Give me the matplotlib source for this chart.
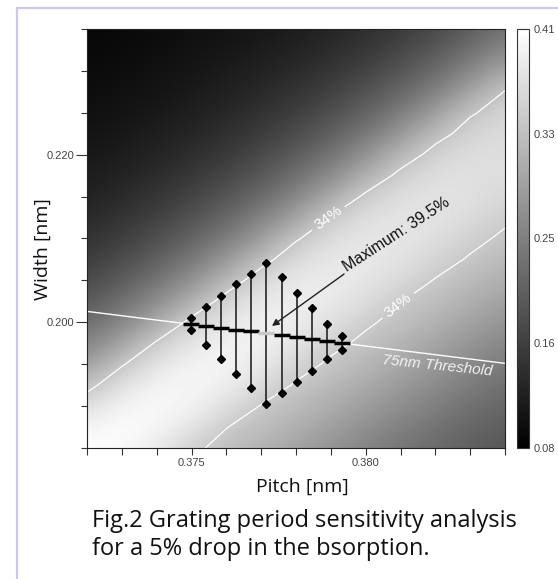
import numpy as np
import matplotlib
matplotlib.use('Agg')
import matplotlib.pyplot as plt
from matplotlib.lines import Line2D

# ---- data ----
# grid of absorption values; columns = pitch, rows = width
pitch = [0.372, 0.373, 0.374, 0.375, 0.376, 0.377, 0.378, 0.379, 0.380, 0.381, 0.382, 0.383, 0.384]
width = [0.1850, 0.1875, 0.1900, 0.1925, 0.1950, 0.1975, 0.2000, 0.2025, 0.2050, 0.2075, 0.2100,
         0.2125, 0.2150, 0.2175, 0.2200, 0.2225, 0.2250, 0.2275, 0.2300, 0.2325, 0.2350]
absorption = [
    [0.408, 0.404, 0.383, 0.348, 0.328, 0.310, 0.290, 0.270, 0.250, 0.232, 0.216, 0.202, 0.191],
    [0.394, 0.406, 0.399, 0.376, 0.341, 0.325, 0.307, 0.287, 0.266, 0.247, 0.229, 0.213, 0.200],
    [0.367, 0.395, 0.403, 0.394, 0.370, 0.338, 0.322, 0.303, 0.283, 0.263, 0.244, 0.226, 0.211],
    [0.326, 0.372, 0.395, 0.399, 0.388, 0.363, 0.336, 0.319, 0.300, 0.280, 0.260, 0.241, 0.223],
    [0.283, 0.336, 0.376, 0.394, 0.396, 0.382, 0.357, 0.333, 0.316, 0.297, 0.276, 0.256, 0.238],
    [0.248, 0.291, 0.345, 0.378, 0.393, 0.392, 0.377, 0.351, 0.331, 0.313, 0.293, 0.273, 0.253],
    [0.218, 0.254, 0.300, 0.351, 0.380, 0.391, 0.387, 0.371, 0.346, 0.328, 0.310, 0.290, 0.270],
    [0.194, 0.224, 0.261, 0.308, 0.356, 0.381, 0.388, 0.383, 0.366, 0.341, 0.325, 0.307, 0.287],
    [0.174, 0.199, 0.229, 0.268, 0.317, 0.361, 0.381, 0.385, 0.378, 0.361, 0.338, 0.322, 0.303],
    [0.158, 0.178, 0.203, 0.235, 0.276, 0.326, 0.364, 0.380, 0.382, 0.373, 0.356, 0.336, 0.319],
    [0.144, 0.161, 0.182, 0.208, 0.241, 0.283, 0.336, 0.366, 0.378, 0.378, 0.368, 0.351, 0.333],
    [0.133, 0.147, 0.164, 0.186, 0.213, 0.248, 0.291, 0.343, 0.367, 0.376, 0.374, 0.364, 0.347],
    [0.124, 0.135, 0.149, 0.167, 0.190, 0.218, 0.254, 0.300, 0.348, 0.367, 0.374, 0.370, 0.359],
    [0.116, 0.125, 0.137, 0.152, 0.171, 0.194, 0.224, 0.261, 0.308, 0.351, 0.367, 0.371, 0.366],
    [0.110, 0.117, 0.127, 0.139, 0.155, 0.174, 0.199, 0.229, 0.268, 0.317, 0.354, 0.366, 0.368],
    [0.105, 0.111, 0.119, 0.129, 0.142, 0.158, 0.178, 0.203, 0.235, 0.276, 0.326, 0.355, 0.364],
    [0.100, 0.105, 0.112, 0.120, 0.131, 0.144, 0.161, 0.182, 0.208, 0.241, 0.283, 0.336, 0.356],
    [0.097, 0.101, 0.106, 0.113, 0.122, 0.133, 0.147, 0.164, 0.186, 0.213, 0.248, 0.291, 0.342],
    [0.094, 0.097, 0.102, 0.108, 0.115, 0.124, 0.135, 0.149, 0.167, 0.190, 0.218, 0.254, 0.300],
    [0.091, 0.094, 0.098, 0.103, 0.109, 0.116, 0.125, 0.137, 0.152, 0.171, 0.194, 0.224, 0.261],
    [0.089, 0.092, 0.095, 0.099, 0.104, 0.110, 0.117, 0.127, 0.139, 0.155, 0.174, 0.199, 0.229],
]
contour_level = 0.34

col_x = [0.37498, 0.37542, 0.37585, 0.37628, 0.37671, 0.37713, 0.37759, 0.37802, 0.37845, 0.37888, 0.37931]
col_top = [0.20048, 0.20186, 0.20317, 0.20454, 0.20576, 0.20704, 0.20537, 0.20346, 0.20174, 0.19980, 0.19837]
col_bot = [0.19908, 0.19729, 0.19562, 0.19380, 0.19212, 0.19022, 0.19153, 0.19291, 0.19422, 0.19559, 0.19670]
col_mid = [0.19985, 0.19958, 0.19937, 0.19914, 0.19893, 0.19870, 0.19847, 0.19825, 0.19802, 0.19780, 0.19758]

thr_x = [0.372, 0.378, 0.384]
thr_y = [0.2013, 0.1982, 0.1951]

max_pt = (0.37731, 0.19956)
max_tail = (0.37938, 0.20576)

cb_ticks = [0.08, 0.1625, 0.245, 0.3275, 0.41]
cb_labels = ['0.08', '0.16', '0.25', '0.33', '0.41']
x_ticks = [0.375, 0.380]
x_labels = ['0.375', '0.380']
y_ticks = [0.200, 0.220]
y_labels = ['0.200', '0.220']

# ---- figure ----
W, H = 558, 579
fig = plt.figure(figsize=(W / 100, H / 100), dpi=100)
def fx(px): return px / W
def fy(py): return 1 - py / H

ax = fig.add_axes([fx(87), fy(448), (505 - 87) / W, (448 - 29) / H])
cax = fig.add_axes([fx(517), fy(448), 12 / W, (448 - 29) / H])

grid = np.array(absorption)
hx = 0.0005; hy = 0.00125
im = ax.imshow(grid, origin='lower', cmap='gray', vmin=0.08, vmax=0.41,
               extent=(pitch[0] - hx, pitch[-1] + hx, width[0] - hy, width[-1] + hy),
               interpolation='bicubic', aspect='auto')
ax.set_xlim(0.372, 0.384)
ax.set_ylim(0.185, 0.235)

cs = ax.contour(pitch, width, grid, levels=[contour_level], colors='white', linewidths=0.9)
ax.clabel(cs, fmt={contour_level: '34%'}, manual=[(0.37892, 0.21245), (0.38093, 0.20207)],
          inline=True, inline_spacing=3, fontsize=11, colors='white')
for t in cs.labelTexts:
    t.set_family('Liberation Sans')

ax.plot(thr_x, thr_y, color='white', lw=1.0)
ax.text(0.38205, 0.19478, '75nm Threshold', color='#f2f2f2', fontsize=11,
        family='Liberation Sans', style='italic', rotation=-6, ha='center', va='center')

ax.vlines(col_x, col_bot, col_top, colors='#151515', lw=1.1)
ax.plot(col_x, col_top, 'D', ms=4.5, color='black', ls='none')
ax.plot(col_x, col_bot, 'D', ms=4.5, color='black', ls='none')
mid_colors = ['black'] * len(col_x)
mid_colors[5] = '#c8c8c8'
for xv, yv, c in zip(col_x, col_mid, mid_colors):
    ax.plot([xv], [yv], '_', ms=11, mew=2.5, color=c)

ax.annotate('', xy=max_pt, xytext=max_tail,
            arrowprops=dict(arrowstyle='-|>', color='#222222', lw=1.0, mutation_scale=10,
                            shrinkA=0, shrinkB=0))
ax.text(0.37946, 0.2060, 'Maximum: 39.5%', color='#111111', fontsize=11.5,
        family='Liberation Sans', rotation=33, rotation_mode='anchor', ha='left', va='baseline')

for s in ax.spines.values():
    s.set_linewidth(0.8)
    s.set_color('#222222')

tickfont = 'Liberation Sans'
ax.set_xticks(x_ticks)
ax.set_xticklabels(x_labels, family=tickfont, fontsize=8, color='#444444')
ax.set_yticks(y_ticks)
ax.set_yticklabels(y_labels, family=tickfont, fontsize=8, color='#444444')
ax.set_xticks(pitch, minor=True)
ax.set_yticks(width[::2], minor=True)
ax.tick_params(axis='x', which='both', length=5, width=0.8, color='#333333', pad=2)
ax.tick_params(axis='y', which='major', length=8, width=0.8, color='#333333', pad=1)
ax.tick_params(axis='y', which='minor', length=4, width=0.8, color='#333333')

cb = fig.colorbar(im, cax=cax, ticks=cb_ticks)
cb.ax.set_yticklabels(cb_labels, family=tickfont, fontsize=8, color='#444444')
cb.ax.tick_params(length=0, pad=3)
cb.outline.set_linewidth(0.8)
cb.outline.set_edgecolor('#333333')

labfont = ['Open Sans', 'DejaVu Sans']
fig.text(fx(43), fy(249), 'Width [nm]', rotation=90, ha='center', va='center',
         fontsize=14, family=labfont, color='#111111')
fig.text(fx(302), fy(487), 'Pitch [nm]', ha='center', va='center',
         fontsize=14, family=labfont, color='#111111')
fig.text(fx(92), fy(527), 'Fig.2 Grating period sensitivity analysis', ha='left', va='baseline',
         fontsize=17, family=labfont, color='#111111')
fig.text(fx(92), fy(555), 'for a 5% drop in the bsorption.', ha='left', va='baseline',
         fontsize=17, family=labfont, color='#111111')

fig.add_artist(Line2D([fx(17), fx(17)], [fy(8), 0], color='#c9c9ee', lw=1.6, transform=fig.transFigure))
fig.add_artist(Line2D([fx(17), 1], [fy(8), fy(8)], color='#c9c9ee', lw=1.6, transform=fig.transFigure))

fig.savefig('out.png', dpi=100)
